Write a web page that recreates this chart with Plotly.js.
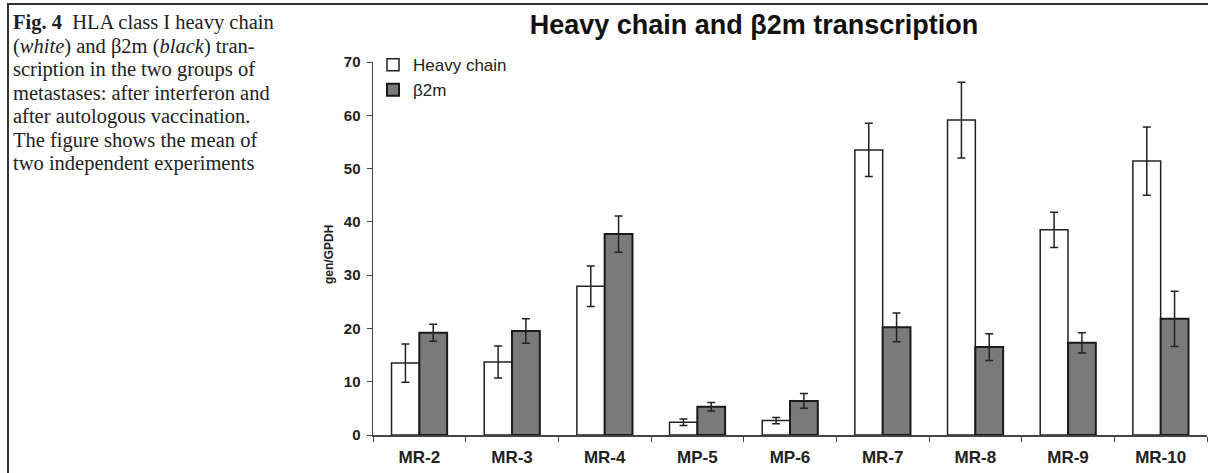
<!DOCTYPE html>
<html>
<head>
<meta charset="utf-8">
<script src="https://cdn.plot.ly/plotly-3.0.1.min.js"></script>
<style>
  html, body { margin: 0; padding: 0; background: #fff; }
  #wrap { position: relative; width: 1208px; height: 473px; overflow: hidden; }
  #chart { position: absolute; left: 0; top: 0; width: 1208px; height: 473px; }
  #frame { position: absolute; left: 7px; top: 3px; width: 1300px; height: 600px;
           border-left: 2px solid #333; border-top: 2px solid #333; pointer-events: none; }
  #caption { position: absolute; left: 13px; top: 11px; width: 320px; white-space: nowrap;
             font-family: "Liberation Serif", "Times New Roman", serif; font-size: 20.5px;
             line-height: 23.5px; color: #222; }
</style>
</head>
<body>
<div id="wrap">
  <div id="chart"></div>
  <div id="frame"></div>
  <div id="caption"><b>Fig. 4</b>&nbsp; HLA class I heavy chain<br>(<i>white</i>) and β2m (<i>black</i>) tran-<br>scription in the two groups of<br>metastases: after interferon and<br>after autologous vaccination.<br>The figure shows the mean of<br>two independent experiments</div>
</div>
<script>
const categories = ["MR-2", "MR-3", "MR-4", "MP-5", "MP-6", "MR-7", "MR-8", "MR-9", "MR-10"];
const heavyChain = [13.5, 13.7, 27.9, 2.4, 2.7, 53.5, 59.1, 38.5, 51.4];
const heavyChainErr = [3.6, 3.0, 3.8, 0.6, 0.6, 5.0, 7.1, 3.3, 6.4];
const b2m = [19.2, 19.5, 37.7, 5.3, 6.4, 20.2, 16.5, 17.3, 21.8];
const b2mErr = [1.6, 2.3, 3.4, 0.8, 1.4, 2.7, 2.5, 1.9, 5.2];
const yTicks = [0, 10, 20, 30, 40, 50, 60, 70];

const FONT = "Liberation Sans, Arial, sans-serif";

const traces = [
  {
    type: "bar", name: "Heavy chain", x: categories, y: heavyChain,
    marker: { color: "#ffffff", line: { color: "#222", width: 1.5 } },
    error_y: { type: "data", array: heavyChainErr, visible: true, color: "#222", thickness: 1.5, width: 4 }
  },
  {
    type: "bar", name: "β2m", x: categories, y: b2m,
    marker: { color: "#7a7a7a", line: { color: "#1a1a1a", width: 2 } },
    error_y: { type: "data", array: b2mErr, visible: true, color: "#222", thickness: 1.5, width: 4 }
  }
];

const layout = {
  width: 1208, height: 473,
  margin: { l: 373, r: 1, t: 62, b: 38, pad: 0 },
  paper_bgcolor: "rgba(0,0,0,0)", plot_bgcolor: "rgba(0,0,0,0)",
  barmode: "group", bargap: 0.4, bargroupgap: 0,
  title: {
    text: "Heavy chain and β2m transcription",
    font: { family: FONT, size: 27, weight: "bold", color: "#111" },
    x: 754 / 1208, xanchor: "center", y: 1 - 25 / 473, yanchor: "middle"
  },
  xaxis: {
    type: "category", showgrid: false, zeroline: false,
    showline: true, linecolor: "#444", linewidth: 1.5,
    ticks: "outside", ticklen: 5, tickcolor: "#444", tickson: "boundaries",
    ticklabelstandoff: 6,
    tickfont: { family: FONT, size: 17, weight: "bold", color: "#222" },
    fixedrange: true
  },
  yaxis: {
    range: [0, 70], tickvals: yTicks, showgrid: false, zeroline: false,
    showline: true, linecolor: "#444", linewidth: 1.5,
    ticks: "outside", ticklen: 5, tickcolor: "#444",
    ticklabelstandoff: 3,
    tickfont: { family: FONT, size: 15, weight: "bold", color: "#222" },
    fixedrange: true
  },
  annotations: [{
    text: "gen/GPDH", xref: "paper", yref: "paper",
    x: (329 - 373) / 834, y: (435 - 255) / 373, xanchor: "center", yanchor: "middle",
    textangle: -90, showarrow: false,
    font: { family: FONT, size: 12, weight: "bold", color: "#222" }
  }],
  showlegend: true,
  legend: {
    x: 0, xanchor: "left", y: 1.04, yanchor: "top",
    bgcolor: "rgba(0,0,0,0)", borderwidth: 0,
    font: { family: FONT, size: 17, color: "#222" },
    itemwidth: 30, tracegroupgap: 0
  }
};

Plotly.newPlot("chart", traces, layout, { displayModeBar: false, staticPlot: true });
</script>
</body>
</html>
